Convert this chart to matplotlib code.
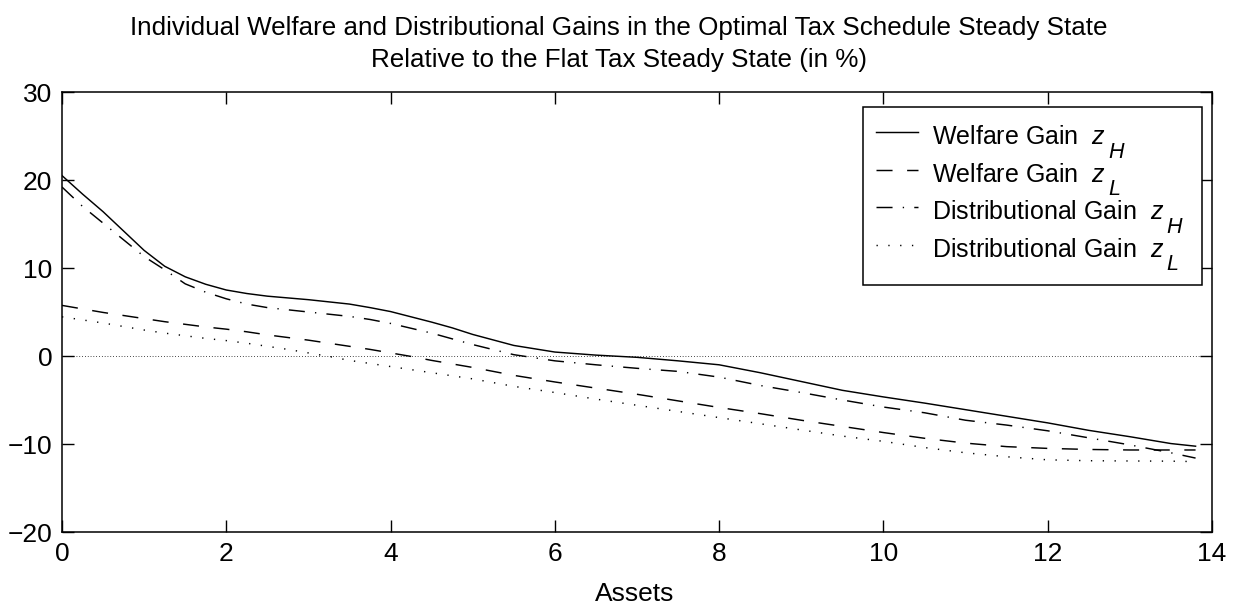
import matplotlib
matplotlib.use("Agg")
import matplotlib.pyplot as plt
from matplotlib.transforms import IdentityTransform
from matplotlib.patches import Rectangle

plt.rcParams['font.family'] = ['Liberation Sans', 'DejaVu Sans']
plt.rcParams['mathtext.fontset'] = 'custom'
plt.rcParams['mathtext.it'] = 'Liberation Sans:italic'
plt.rcParams['mathtext.rm'] = 'Liberation Sans'

assets = [0, 0.25, 0.5, 0.75, 1, 1.25, 1.5, 1.75, 2, 2.25, 2.5, 2.75, 3, 3.25, 3.5, 3.75,
          4, 4.25, 4.5, 4.75, 5, 5.5, 6, 6.5, 7, 7.5, 8, 8.5, 9, 9.5, 10, 10.5, 11, 11.5,
          12, 12.5, 13, 13.5, 13.8]

welfare_zH = [20.5, 18.4, 16.4, 14.2, 12.0, 10.2, 9.0, 8.15, 7.5, 7.1, 6.8, 6.6, 6.4, 6.15, 5.9, 5.5,
              5.05, 4.45, 3.85, 3.2, 2.45, 1.2, 0.45, 0.1, -0.15, -0.55, -1.0, -1.9, -2.9, -3.9,
              -4.65, -5.35, -6.1, -6.85, -7.6, -8.45, -9.17, -9.95, -10.25]
welfare_zL = [5.75, 5.35, 4.95, 4.6, 4.25, 3.9, 3.6, 3.3, 3.05, 2.75, 2.4, 2.1, 1.8, 1.45, 1.1, 0.75,
              0.35, -0.05, -0.5, -0.9, -1.3, -2.2, -2.95, -3.65, -4.35, -5.1, -5.85, -6.55, -7.3, -8.0,
              -8.7, -9.35, -9.9, -10.3, -10.5, -10.62, -10.68, -10.68, -10.68]
distrib_zH = [19.2, 17.0, 15.1, 13.2, 11.3, 9.8, 8.2, 7.25, 6.5, 5.9, 5.5, 5.25, 5.0, 4.75, 4.5, 4.15,
              3.7, 3.15, 2.6, 1.95, 1.3, 0.15, -0.55, -1.0, -1.4, -1.75, -2.4, -3.35, -4.15, -5.0,
              -5.8, -6.45, -7.3, -7.85, -8.5, -9.3, -10.1, -11.0, -11.6]
distrib_zL = [4.45, 4.1, 3.75, 3.35, 2.95, 2.6, 2.3, 2.0, 1.75, 1.45, 1.1, 0.75, 0.35, -0.05, -0.5, -0.85,
              -1.2, -1.55, -1.9, -2.25, -2.6, -3.45, -4.15, -4.9, -5.6, -6.3, -7.0, -7.7, -8.4, -9.1,
              -9.7, -10.4, -11.0, -11.45, -11.8, -11.9, -11.93, -11.95, -12.0]

label_main = ['Welfare Gain  $z$', 'Welfare Gain  $z$',
              'Distributional Gain  $z$', 'Distributional Gain  $z$']
label_sub = ['H', 'L', 'H', 'L']
xticks = [0, 2, 4, 6, 8, 10, 12, 14]
yticks = [-20, -10, 0, 10, 20, 30]
title_lines = ['Individual Welfare and Distributional Gains in the Optimal Tax Schedule Steady State',
               'Relative to the Flat Tax Steady State (in %)']
xlabel = 'Assets'

W, H = 1237, 608
FS = 19
LFS = 18

fig = plt.figure(figsize=(W / 100, H / 100), dpi=100)
ax = fig.add_axes([62 / W, 76 / H, 1150 / W, 440 / H])

ax.axhline(0, color='black', lw=0.7, linestyle=(0, (0.7, 2.2)))
ax.plot(assets, welfare_zH, color='black', lw=1.05, label=label_main[0])
ax.plot(assets, welfare_zL, color='black', lw=1.05, dashes=(11.0, 10.0), label=label_main[1])
ax.plot(assets, distrib_zH, color='black', lw=1.05, dashes=(11.0, 7.0, 0.9, 7.0), label=label_main[2])
ax.plot(assets, distrib_zL, color='black', lw=1.05, dashes=(0.9, 7.2), label=label_main[3])

ax.set_xlim(0, 14)
ax.set_ylim(-20, 30)
ax.set_xticks(xticks)
ax.set_yticks(yticks)
ax.set_yticklabels([('\u2212' + str(-v)) if v < 0 else str(v) for v in yticks])
ax.tick_params(direction='in', top=True, right=True, length=8.6, width=1, labelsize=FS, pad=7)
for s in ax.spines.values():
    s.set_linewidth(1.1)

fig.text(619, H - 35, title_lines[0], transform=IdentityTransform(), ha='center', va='baseline', fontsize=18.7)
fig.text(619, H - 67, title_lines[1], transform=IdentityTransform(), ha='center', va='baseline', fontsize=18.7)
fig.text(635, H - 601, xlabel, transform=IdentityTransform(), ha='center', va='baseline', fontsize=FS)

# legend frame (opaque box) drawn as a patch behind the legend entries
ax.add_patch(Rectangle((862.7, H - 285), 339, 177.7, transform=IdentityTransform(),
                       facecolor='white', edgecolor='black', lw=1.1, zorder=4, clip_on=False))

leg = ax.legend(loc='upper left', bbox_to_anchor=(862.7 / W, 1 - 107.3 / H), bbox_transform=fig.transFigure,
                fontsize=LFS, frameon=False,
                handlelength=1.7, handletextpad=0.55, borderaxespad=0, borderpad=0.53,
                labelspacing=0.28, handleheight=1.5)
leg.set_zorder(5)

fig.canvas.draw()
r = fig.canvas.get_renderer()
for t, base, sub in zip(leg.get_texts(), label_main, label_sub):
    bb = t.get_window_extent(r)
    w, h, d = r.get_text_width_height_descent(base, t.get_fontproperties(), ismath=True)
    fig.text(bb.x0 + w + 2, bb.y0 + d - 10.6, sub, transform=IdentityTransform(),
             ha='left', va='baseline', fontsize=15.5, style='italic')

fig.savefig('out.png', dpi=100)
